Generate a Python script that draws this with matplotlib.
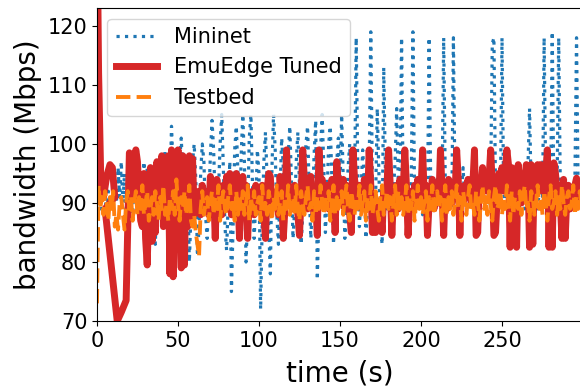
import numpy as np
import matplotlib
matplotlib.use("Agg")
import matplotlib.pyplot as plt

# Mininet, 1 sample per second (t = 0..299)
mininet_bw = [
    90, 91, 89, 92, 90, 91, 88, 92, 90, 91,
    89, 93, 90, 96, 91, 97, 90, 95, 89, 92,
    90, 94, 88, 93, 90, 95, 89, 94, 91, 97,
    88, 96, 90, 95, 87, 94, 83, 92, 89, 96,
    86, 93, 99, 94, 87, 91, 103, 96, 88, 84,
    90, 97, 101, 95, 86, 83, 92, 80, 88, 97,
    100, 94, 81, 86, 95, 100, 97, 88, 84, 91,
    98, 104, 99, 90, 85, 92, 100, 105, 96, 86,
    82, 90, 97, 75, 86, 99, 103, 95, 84, 98,
    105, 97, 80, 88, 101, 105, 93, 84, 90, 99,
    95, 72, 87, 97, 102, 94, 86, 78, 96, 105,
    99, 88, 83, 92, 101, 96, 85, 90, 98, 103,
    94, 84, 89, 97, 102, 93, 83, 88, 96, 100,
    103, 92, 84, 90, 98, 104, 77, 89, 99, 105,
    96, 85, 91, 100, 103, 94, 83, 90, 97, 101,
    92, 105, 94, 84, 89, 96, 100, 91, 85, 93,
    118, 95, 86, 92, 99, 94, 84, 90, 96, 119,
    93, 85, 91, 106, 95, 86, 83, 113, 96, 89,
    91, 94, 89, 92, 97, 106, 93, 90, 118, 92,
    89, 93, 91, 90, 94, 119, 92, 89, 93, 90,
    92, 88, 94, 91, 90, 118, 93, 89, 92, 90,
    94, 91, 89, 92, 118, 93, 90, 91, 94, 89,
    118, 92, 90, 93, 89, 92, 96, 90, 93, 91,
    89, 94, 91, 92, 90, 93, 89, 92, 95, 90,
    91, 93, 90, 94, 117, 118, 92, 90, 93, 91,
    118, 92, 89, 93, 91, 90, 94, 92, 89, 93,
    91, 90, 94, 92, 89, 93, 96, 106, 92, 90,
    93, 91, 89, 92, 94, 90, 118, 93, 91, 90,
    92, 119, 91, 90, 93, 118, 92, 89, 94, 91,
    90, 93, 92, 89, 91, 94, 118, 92, 90, 93,
]

# EmuEdge Tuned: start-up part (log is not monotonic in time here)
emu_head_t = [0, 1, 2.5, 4, 6, 8, 9.5, 11, 5, 12.5, 15, 18]
emu_head_bw = [140, 112, 92, 91, 94.5, 96.5, 96, 91, 89, 70, 71.5, 73.5]
# EmuEdge Tuned, 1 sample per second (t = 20..299)
emu_bw = [
    98.5, 97, 91, 98, 99, 97, 91, 87, 86, 95,
    84, 79.5, 90, 96, 83.5, 95, 85, 97, 88, 93,
    98, 86, 97, 89, 98, 78, 99, 77.5, 97, 88,
    99, 85, 79, 98, 79.5, 97, 86, 98, 87, 97.5,
    88, 91, 89, 92, 88, 93, 90, 89, 92, 88,
    94.5, 90, 92, 84, 94, 89, 91, 88, 93, 90,
    94.5, 89, 95, 88, 94, 90, 95, 91, 84, 92,
    94.5, 89, 93, 84, 91, 90, 92, 88, 93, 89,
    91, 90, 93, 88, 84, 92, 95, 94.5, 89, 91,
    90, 92, 88, 94.5, 91, 84, 89, 99, 92, 90,
    92, 89, 93, 90, 88, 84.5, 91, 99, 94, 92,
    89, 93, 94.5, 91, 88, 90, 84.5, 99, 93, 94,
    92, 90, 93, 89, 91, 94, 92, 85, 97, 93,
    90, 92, 94, 89, 93, 91, 88, 85, 99, 94,
    92, 90, 93, 91, 89, 94, 92, 90, 99, 93,
    85, 88, 85, 90, 86, 89, 85, 92, 90, 93,
    99, 93, 84.5, 91, 90, 93, 89, 94, 91, 92,
    99, 93, 84.5, 90, 92, 89, 93, 91, 94, 90,
    92, 99, 91, 93, 84.5, 90, 92, 94, 89, 93,
    91, 90, 99, 92, 84.5, 93, 89, 94, 91, 90,
    93, 91, 99, 94, 84.5, 92, 90, 93, 91, 94,
    92, 90, 93, 99, 84.5, 85, 94, 93, 96, 92,
    95, 92, 94, 99, 93, 84.5, 85, 91, 95, 94,
    96, 92, 95, 99, 96.5, 82.5, 96, 83, 95, 82.5,
    96.5, 93, 90, 92, 94, 96.5, 95, 82.5, 96.5, 83,
    96, 95, 96.5, 93, 96.5, 92, 94, 95, 99, 82.5,
    96.5, 82.5, 96.8, 95, 92, 93, 90, 84, 94, 84,
    91, 93, 89, 92, 90, 93, 94.2, 91, 92, 91,
]

# Testbed, 1 sample per second (t = 0..299)
testbed_bw = [
    73, 93, 89, 91, 88, 92, 90, 87, 91, 89,
    92, 86, 88, 85.5, 90, 91, 88, 85.5, 90, 92,
    89, 91, 87, 90, 92, 88, 91, 89, 93, 88,
    90, 92, 87, 89, 91, 88, 92, 90, 87, 91,
    89, 93, 88, 90, 87, 91, 89, 92, 88, 94,
    90, 87, 91, 89, 92, 88, 90, 93, 87, 86,
    88, 85, 83, 81, 89, 92, 88, 90, 91, 87,
    90, 92, 88, 91, 89, 93, 87, 90, 92, 89,
    88, 91, 93, 89, 90, 87, 92, 88, 91, 89,
    92, 88, 90, 93, 87, 91, 89, 92, 88, 90,
    91, 87, 93, 89, 90, 88, 92, 90, 87, 91,
    89, 93, 88, 90, 92, 87, 91, 89, 93, 88,
    90, 91, 88, 93, 89, 87, 92, 90, 88, 91,
    93, 89, 90, 87, 92, 88, 91, 89, 93, 90,
    88, 91, 89, 92, 87, 90, 93, 88, 91, 89,
    90, 92, 88, 91, 93, 89, 87, 92, 90, 88,
    91, 89, 93, 88, 90, 92, 87, 91, 89, 93,
    88, 90, 92, 89, 87, 91, 93, 88, 90, 92,
    89, 91, 87, 90, 93, 88, 92, 89, 91, 88,
    90, 93, 88, 91, 89, 92, 87, 90, 93, 89,
    91, 88, 90, 92, 87, 91, 89, 93, 88, 90,
    92, 89, 91, 87, 90, 93, 88, 91, 89, 92,
    88, 90, 93, 89, 91, 87, 92, 90, 88, 91,
    93, 89, 90, 88, 92, 91, 87, 90, 93, 89,
    91, 88, 92, 90, 87, 91, 93, 89, 90, 92,
    88, 91, 89, 93, 90, 87, 92, 88, 91, 90,
    89, 92, 88, 91, 93, 89, 90, 87, 92, 91,
    88, 90, 93, 89, 91, 88, 92, 90, 87, 91,
    93, 89, 90, 92, 88, 91, 89, 93, 90, 88,
    91, 92, 89, 90, 93, 88, 91, 89, 92, 90,
]

t_full = np.arange(len(mininet_bw))
emu_t = np.concatenate([emu_head_t, np.arange(20, 20 + len(emu_bw))])
emu_all = np.concatenate([emu_head_bw, emu_bw])

fig = plt.figure(figsize=(5.8, 3.92), dpi=100)
ax = fig.add_axes([0.1672, 0.181, 0.838, 0.798])

ax.plot(t_full, mininet_bw, color="#1f77b4", linestyle=":", linewidth=2.3, label="Mininet")
ax.plot(emu_t, emu_all, color="#d62728", linestyle="-", linewidth=5, label="EmuEdge Tuned")
ax.plot(t_full, testbed_bw, color="#ff7f0e", linestyle="--", linewidth=2.8, label="Testbed")

ax.set_xlim(0, 300)
ax.set_ylim(70, 123)
ax.set_xticks([0, 50, 100, 150, 200, 250])
ax.set_yticks([70, 80, 90, 100, 110, 120])
ax.tick_params(labelsize=15)
ax.set_xlabel("time (s)", fontsize=20, labelpad=6)
ax.set_ylabel("bandwidth (Mbps)", fontsize=20)
ax.legend(loc="upper left", fontsize=15)

fig.savefig("out.png", dpi=100)
